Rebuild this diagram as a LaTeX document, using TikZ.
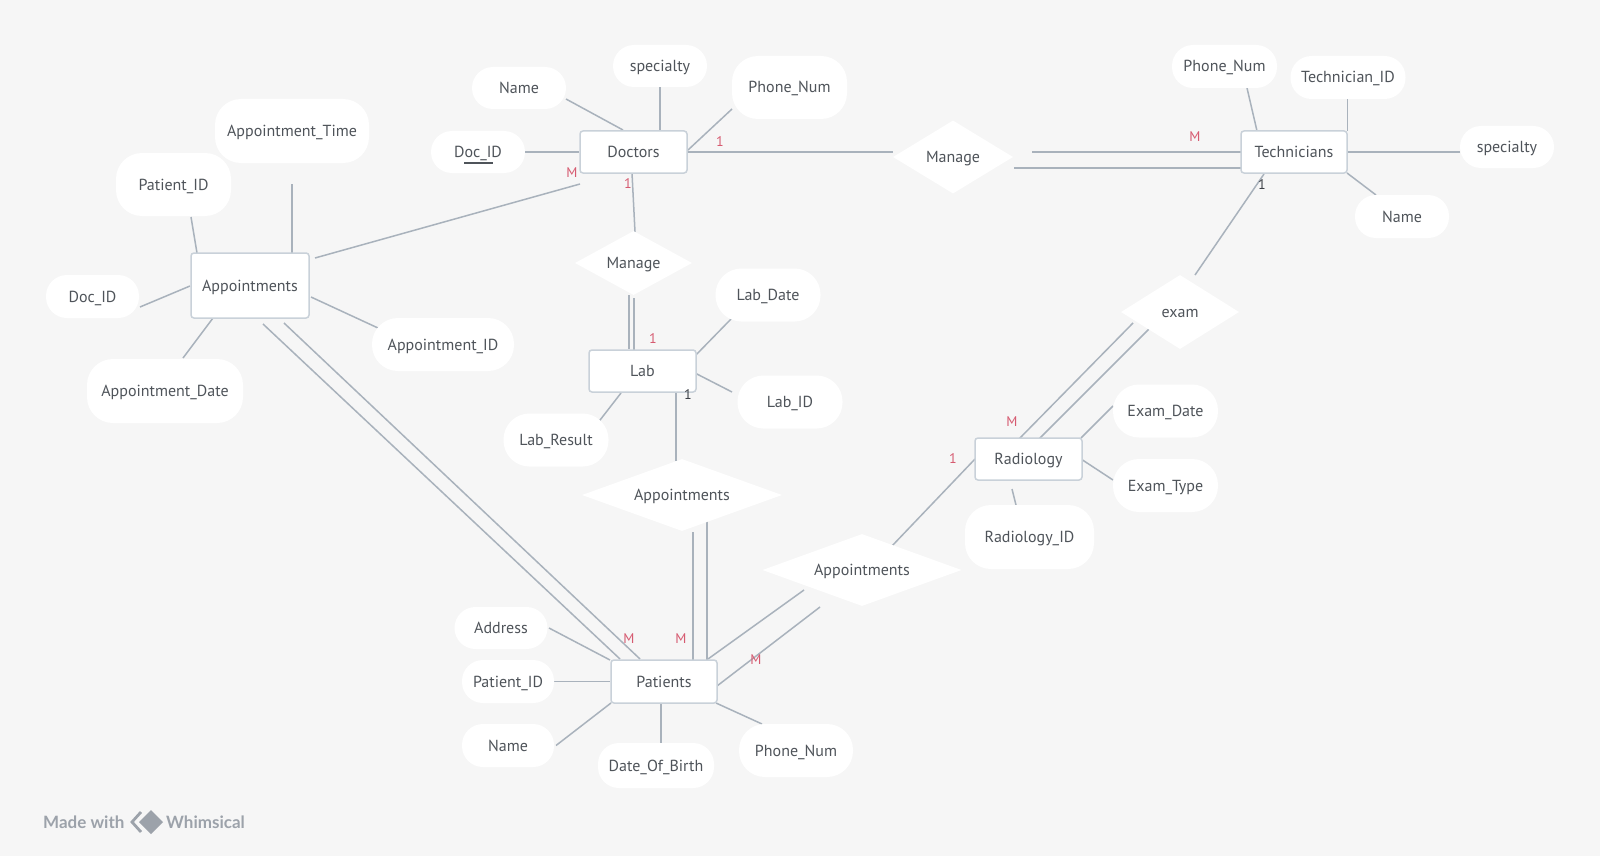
\documentclass[tikz,border=0pt]{standalone}
\usepackage{fontspec}
\setmainfont{PT Sans}
\newfontfamily\wmfont{Lato}
\usetikzlibrary{shapes.geometric,calc,backgrounds}
\definecolor{bgc}{HTML}{F6F6F6}
\definecolor{linec}{HTML}{A9B2BC}
\definecolor{entc}{HTML}{C9D1D9}
\definecolor{txtc}{HTML}{4F545A}
\definecolor{redc}{HTML}{D65A70}
\definecolor{darkc}{HTML}{3C4046}
\definecolor{wmc}{HTML}{9CA2AA}
\tikzset{
  every node/.style={text=txtc, font=\fontsize{16}{19}\selectfont},
  ent/.style={draw=entc, fill=white, line width=1.5pt, rounded corners=3pt, inner sep=0pt, text height=11pt, text depth=0pt},
  rel/.style={shape=diamond, fill=white, inner sep=0pt, aspect=2, text height=11pt, text depth=0pt},
  attr/.style={fill=white, rounded corners=21pt, inner sep=0pt, text height=11pt, text depth=0pt},
  tallattr/.style={fill=white, rounded corners=26pt, inner sep=0pt, text height=11pt, text depth=0pt},
  conn/.style={draw=linec, line width=1.5pt},
  redlbl/.style={text=redc, font=\fontsize{14}{16}\selectfont, inner sep=0pt},
  blklbl/.style={text=darkc, font=\fontsize{14}{16}\selectfont, inner sep=0pt},
}
\begin{document}
\begin{tikzpicture}[x=1pt,y=-1pt]
\begin{scope}[on background layer]
\fill[bgc] (0,0) rectangle (1600,856);
\end{scope}
\useasboundingbox (0,0) rectangle (1600,856);

% entities
\node[ent, minimum width=107pt, minimum height=42pt] (doctors) at (633.5,152) {Doctors};
\node[ent, minimum width=106pt, minimum height=42pt] (tech) at (1294,152) {Technicians};
\node[ent, minimum width=118pt, minimum height=65pt] (appt) at (250,285.5) {Appointments};
\node[ent, minimum width=107pt, minimum height=42pt] (lab) at (642.5,371) {Lab};
\node[ent, minimum width=107pt, minimum height=42pt] (rad) at (1028.5,459) {Radiology};
\node[ent, minimum width=106pt, minimum height=43pt] (patients) at (664,681.5) {Patients};

% relationships
\node[rel, minimum width=120pt, minimum height=73pt] (manageA) at (953,157) {Manage};
\node[rel, minimum width=117pt, minimum height=64pt] (manageB) at (633.5,263) {Manage};
\node[rel, minimum width=118pt, minimum height=74pt] (exam) at (1180,312) {exam};
\node[rel, minimum width=200pt, minimum height=72pt, aspect=2.8] (relA) at (682,495) {Appointments};
\node[rel, minimum width=199pt, minimum height=72pt, aspect=2.8] (relB) at (862,570) {Appointments};

% attributes: doctors
\node[attr, minimum width=94pt, minimum height=42pt] (dname) at (519,88) {Name};
\node[attr, minimum width=94pt, minimum height=42pt] (dspec) at (660,66) {specialty};
\node[tallattr, minimum width=115pt, minimum height=63pt] (dphone) at (789.5,87.5) {Phone\_Num};
\node[attr, minimum width=94pt, minimum height=42pt] (docid) at (478,152) {Doc\_ID};
% technicians
\node[attr, minimum width=105pt, minimum height=43pt] (tphone) at (1224.5,66.5) {Phone\_Num};
\node[attr, minimum width=115pt, minimum height=43pt] (techid) at (1348,77.5) {Technician\_ID};
\node[attr, minimum width=94pt, minimum height=42pt] (tspec) at (1507,147) {specialty};
\node[attr, minimum width=94pt, minimum height=43pt] (tname) at (1402,216.5) {Name};
% appointments entity
\node[tallattr, minimum width=115pt, minimum height=63pt] (apid) at (173.5,184.5) {Patient\_ID};
\node[tallattr, minimum width=154pt, minimum height=64pt] (aptime) at (292,131) {Appointment\_Time};
\node[attr, minimum width=93pt, minimum height=43pt] (adocid) at (92.5,296.5) {Doc\_ID};
\node[tallattr, minimum width=156pt, minimum height=64pt] (apdate) at (165,391) {Appointment\_Date};
\node[tallattr, minimum width=142pt, minimum height=53pt] (apptid) at (443,344.5) {Appointment\_ID};
% lab
\node[tallattr, minimum width=105pt, minimum height=53pt] (labdate) at (768,295) {Lab\_Date};
\node[tallattr, minimum width=105pt, minimum height=53pt] (labid) at (790,402) {Lab\_ID};
\node[tallattr, minimum width=105pt, minimum height=53pt] (labres) at (556,440) {Lab\_Result};
% radiology
\node[tallattr, minimum width=105pt, minimum height=53pt] (exdate) at (1165.5,411) {Exam\_Date};
\node[tallattr, minimum width=105pt, minimum height=53pt] (extype) at (1165.5,485.5) {Exam\_Type};
\node[tallattr, minimum width=129pt, minimum height=64pt] (radid) at (1029.5,537) {Radiology\_ID};
% patients
\node[attr, minimum width=93pt, minimum height=42pt] (addr) at (501,628) {Address};
\node[attr, minimum width=92pt, minimum height=43pt] (pid) at (508,681.5) {Patient\_ID};
\node[attr, minimum width=92pt, minimum height=43pt] (pname) at (508,745.5) {Name};
\node[attr, minimum width=116pt, minimum height=45pt] (dob) at (656,765.5) {Date\_Of\_Birth};
\node[tallattr, minimum width=114pt, minimum height=53pt] (pphone) at (796,750.5) {Phone\_Num};

% underline of key
\draw[txtc, line width=1.2pt] ($(docid)+(-14,11)$) -- ($(docid)+(15,11)$);

% cardinality labels
\node[redlbl] (c1) at (720,142) {1};
\node[redlbl] (c2) at (572,173) {M};
\node[redlbl] (c3) at (628,184) {1};
\node[redlbl] (c4) at (653,339) {1};
\node[redlbl] (c5) at (1195,137) {M};
\node[redlbl] (c6) at (1012,422) {M};
\node[redlbl] (c7) at (953,459) {1};
\node[redlbl] (c8) at (629,639) {M};
\node[redlbl] (c9) at (681,639) {M};
\node[redlbl] (c10) at (756,660) {M};
\node[blklbl] (c11) at (688,395) {1};
\node[blklbl] (c12) at (1262,185) {1};

% connectors
\begin{scope}[on background layer]
% doctors
\draw[conn] ($(dname)+(47,11)$) -- ($(doctors)+(-10.5,-22)$);
\draw[conn] ($(dspec)+(0,21)$) -- ($(doctors)+(26.5,-21)$);
\draw[conn] ($(dphone)+(-57.5,21.5)$) -- ($(doctors)+(54.5,-2)$);
\draw[conn] (docid.east) -- (doctors.west);
\draw[conn] (doctors.east) -- ($(manageA)+(-60,-5)$);
\draw[conn] ($(doctors)+(-53.5,32)$) -- ($(appt)+(65,-27.5)$);
\draw[conn] ($(doctors)+(-1.5,21)$) -- ($(manageB)+(1.5,-31)$);
\draw[conn] ($(manageB)+(-4.5,32)$) -- ($(lab)+(-13.5,-22)$);
\draw[conn] ($(manageB)+(0.5,35)$) -- ($(lab)+(-8.5,-18)$);
% manage - technicians
\draw[conn] ($(manageA)+(79,-5)$) -- ($(tech)+(-53,0)$);
\draw[conn] ($(manageA)+(61,11)$) -- ($(tech)+(-53,16)$);
% technicians
\draw[conn] ($(tphone)+(22.5,21.5)$) -- ($(tech)+(-37,-21)$);
\draw[conn] ($(techid)+(-0.5,21.5)$) -- ($(tech)+(53.5,-21)$);
\draw[conn] (tech.east) -- ($(tspec)+(-47,5)$);
\draw[conn] ($(tech)+(53,21)$) -- ($(tname)+(-26,-21.5)$);
\draw[conn] ($(tech)+(-30,22)$) -- ($(exam)+(15,-37)$);
% exam - radiology
\draw[conn] ($(exam)+(-47,11)$) -- ($(rad)+(-10.5,-19)$);
\draw[conn] ($(exam)+(-25,11)$) -- ($(rad)+(9.5,-19)$);
% radiology
\draw[conn] ($(rad)+(52.5,-21)$) -- ($(exdate)+(-52.5,-5)$);
\draw[conn] ($(rad)+(52.5,0)$) -- ($(extype)+(-52.5,-5.5)$);
\draw[conn] ($(rad)+(-16.5,30)$) -- ($(radid)+(-11.5,-24)$);
\draw[conn] ($(rad)+(-53.5,0)$) -- ($(relB)+(29,-23)$);
% lab
\draw[conn] ($(labdate)+(-36,23)$) -- ($(lab)+(50.5,-13)$);
\draw[conn] ($(lab)+(50.5,1)$) -- ($(labid)+(-58,-10)$);
\draw[conn] ($(labres)+(34,-7)$) -- ($(lab)+(-21.5,22)$);
\draw[conn] ($(lab)+(33.5,21)$) -- ($(relA)+(-6,-34)$);
% relationships to patients
\draw[conn] ($(relA)+(11,37)$) -- ($(patients)+(29,-21.5)$);
\draw[conn] ($(relA)+(25,18)$) -- ($(patients)+(43,-21.5)$);
\draw[conn] ($(relB)+(-58,20)$) -- ($(patients)+(44,-22.5)$);
\draw[conn] ($(relB)+(-42,37)$) -- ($(patients)+(53,4.5)$);
% appointments entity
\draw[conn] ($(apid)+(17.5,32.5)$) -- ($(appt)+(-53,-32.5)$);
\draw[conn] ($(aptime)+(0,53)$) -- ($(appt)+(42,-32.5)$);
\draw[conn] ($(adocid)+(47.5,10.5)$) -- ($(appt)+(-60,0.5)$);
\draw[conn] ($(apdate)+(18,-33)$) -- ($(appt)+(-37,32.5)$);
\draw[conn] ($(appt)+(61,11.5)$) -- ($(apptid)+(-65,-16.5)$);
\draw[conn] ($(appt)+(13,38.5)$) -- ($(patients)+(-44,-22.5)$);
\draw[conn] ($(appt)+(34,37.5)$) -- ($(patients)+(-24,-22.5)$);
% patients
\draw[conn] ($(addr)+(48,0)$) -- ($(patients)+(-54,-21.5)$);
\draw[conn] (pid.east) -- (patients.west);
\draw[conn] ($(pname)+(48,0)$) -- ($(patients)+(-53,21.5)$);
\draw[conn] ($(patients)+(-3,21.5)$) -- ($(dob)+(5,-20.5)$);
\draw[conn] ($(patients)+(52,21.5)$) -- ($(pphone)+(-34,-26.5)$);
\end{scope}

% watermark
\node[anchor=west, text=wmc, font=\wmfont\bfseries\fontsize{17}{20}\selectfont, inner sep=0pt] (made) at (43,822) {Made with};
\draw[wmc, line width=2.8pt, line join=miter] (141,812) -- (132,822) -- (141,832);
\fill[wmc] (151,810) -- (163,822) -- (151,834) -- (139,822) -- cycle;
\node[anchor=west, text=wmc, font=\wmfont\bfseries\fontsize{17}{20}\selectfont, inner sep=0pt] (whim) at (166,822) {Whimsical};
\end{tikzpicture}
\end{document}
